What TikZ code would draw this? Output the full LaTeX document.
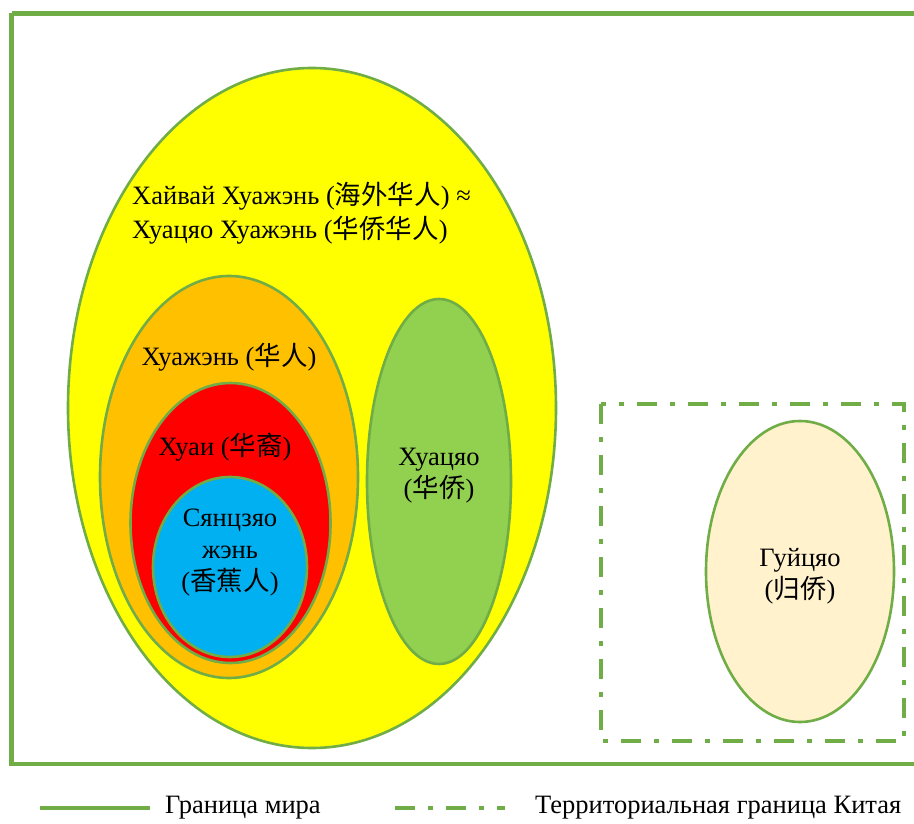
\documentclass[tikz,border=0pt]{standalone}
\usepackage{fontspec}
\setmainfont{Liberation Serif}
\newfontfamily\cjk{Noto Sans CJK SC}
\definecolor{lgreen}{HTML}{70AD47}
\definecolor{cyel}{HTML}{FFFF00}
\definecolor{corange}{HTML}{FFC000}
\definecolor{cred}{HTML}{FF0000}
\definecolor{cblue}{HTML}{00B0F0}
\definecolor{cgreen}{HTML}{92D050}
\definecolor{ccream}{HTML}{FFF2CC}
\tikzset{
  circ/.style={draw=lgreen, line width=2.6pt},
  lbl/.style={font=\fontsize{26.5}{32}\selectfont, align=center, inner sep=0pt},
  borderline/.style={draw=lgreen, line width=4.5pt},
  chinaline/.style={draw=lgreen, line width=4.5pt, dash pattern=on 20pt off 13pt on 5pt off 13pt},
}
\begin{document}
\begin{tikzpicture}[x=1pt,y=-1pt]
\useasboundingbox (0,0) rectangle (914,824);
\fill[white] (0,0) rectangle (914,824);
% world border
\draw[borderline] (11.5,13.5) -- (930,13.5) (11.5,13.5) -- (11.5,764) -- (930,764);
% China border
\draw[chinaline] (601,404) rectangle (904,741);
% ellipses
\draw[circ, fill=cyel] (312,408) ellipse [x radius=244, y radius=340];
\draw[circ, fill=corange] (229,477) ellipse [x radius=129, y radius=201];
\draw[circ, fill=cred] (230.5,523) ellipse [x radius=100, y radius=140];
\draw[circ, fill=cblue] (230,567) ellipse [x radius=77, y radius=90];
\draw[circ, fill=cgreen] (439,481.5) ellipse [x radius=72, y radius=182.5];
\draw[circ, fill=ccream] (800,571.5) ellipse [x radius=94, y radius=150.5];
% labels
\node[lbl, anchor=west, align=left, font=\fontsize{26.5}{34}\selectfont] (haiwai) at (132,213) {Хайвай Хуажэнь ({\cjk 海外华人}) ≈\\Хуацяо Хуажэнь ({\cjk 华侨华人})};
\node[lbl] (huaren) at (229,357) {Хуажэнь ({\cjk 华人})};
\node[lbl] (huayi) at (225,447) {Хуаи ({\cjk 华裔})};
\node[lbl] (banana) at (230,553) {Сянцзяо\\жэнь\\({\cjk 香蕉人})};
\node[lbl] (huaqiao) at (439,476) {Хуацяо\\({\cjk 华侨})};
\node[lbl] (guiqiao) at (800,576) {Гуйцяо\\({\cjk 归侨})};
% legend
\coordinate (la1) at (40,808);
\coordinate (la2) at (150,808);
\coordinate (lb1) at (395,808);
\coordinate (lb2) at (505,808);
\draw[borderline] (la1) -- (la2);
\draw[chinaline] (lb1) -- (lb2);
\node[lbl, anchor=west] (legA) at (165,808) {Граница мира};
\node[lbl, anchor=west] (legB) at (535,808) {Территориальная граница Китая};
\end{tikzpicture}
\end{document}
